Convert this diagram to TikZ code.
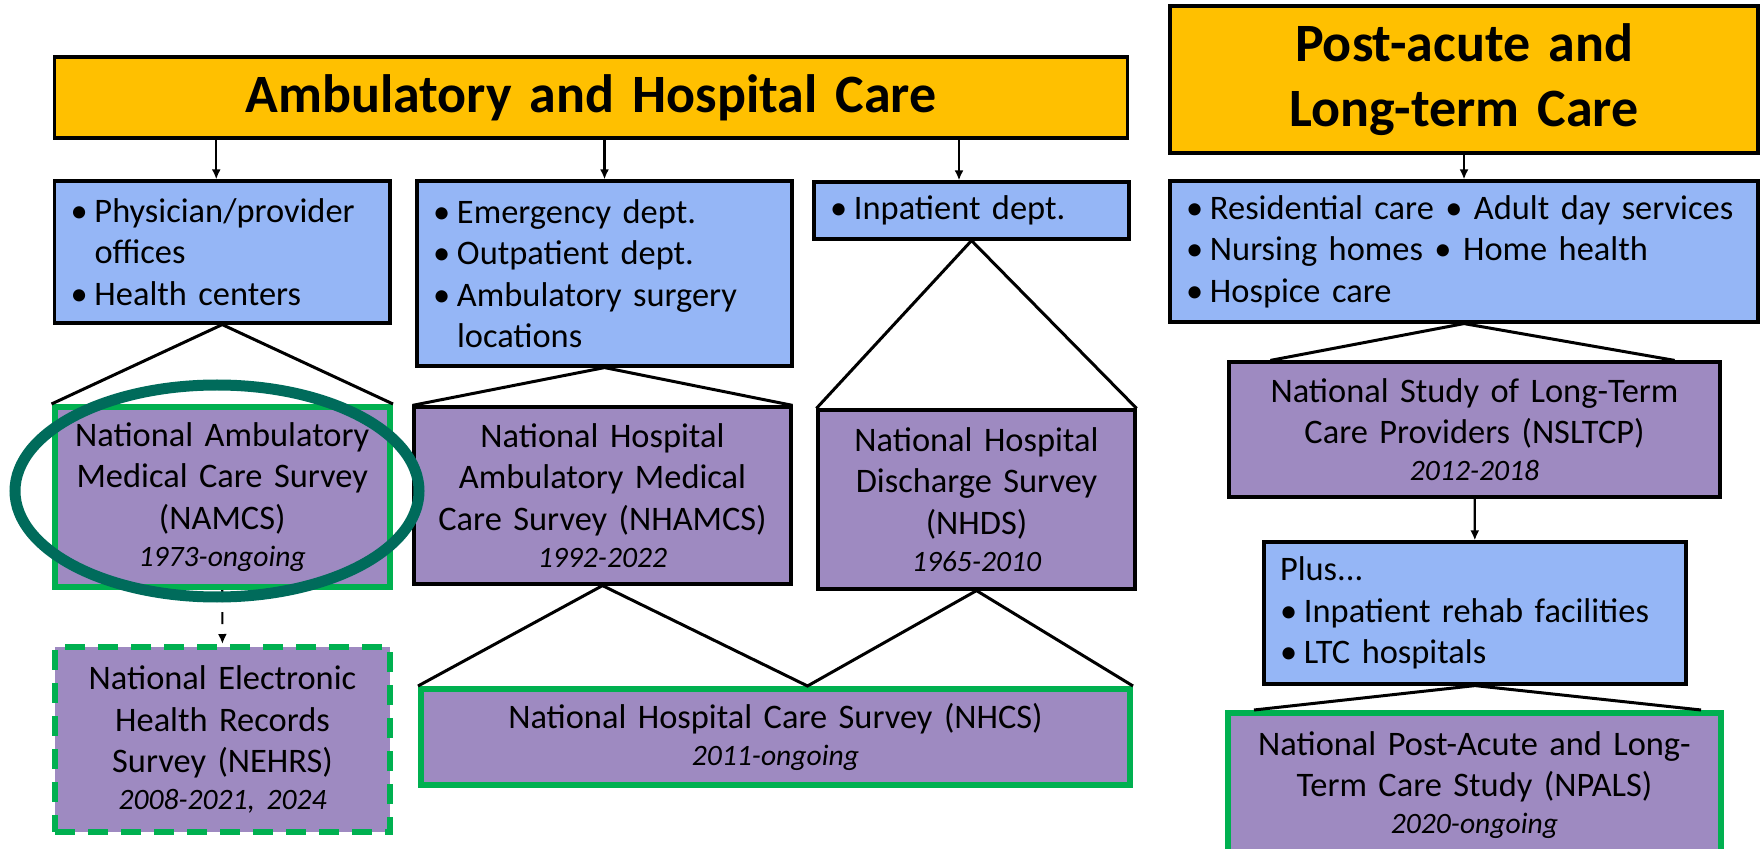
\documentclass[tikz,border=0pt]{standalone}
\usepackage{fontspec}
\setmainfont{Carlito}
\usepackage{xcolor}
\usepackage{tikz}
\usetikzlibrary{arrows.meta}

\definecolor{hdrorange}{HTML}{FFC000}
\definecolor{setblue}{HTML}{95B6F6}
\definecolor{srvpurple}{HTML}{9E8AC1}
\definecolor{keepgreen}{HTML}{00B050}
\definecolor{ringteal}{HTML}{006B5B}

\newcommand{\itm}{\makebox[12pt][l]{•}}
\newcommand{\hng}{\hspace*{12pt}}
\newcommand{\yrs}[1]{{\fontsize{14.8}{18.5}\selectfont\itshape #1}}
\frenchspacing

\begin{document}
\begin{tikzpicture}[x=0.5pt, y=-0.5pt,
    hdr/.style={draw, line width=1.6pt, fill=hdrorange, align=center, inner sep=0pt,
        font=\fontsize{27}{32.5}\selectfont\bfseries},
    setbox/.style={draw, line width=1.6pt, fill=setblue, align=left, inner xsep=8pt, inner ysep=0pt,
        font=\fontsize{17.2}{20.75}\selectfont},
    srvbox/.style={draw, line width=1.6pt, fill=srvpurple, align=center, inner xsep=4pt, inner ysep=0pt,
        font=\fontsize{17.2}{20.75}\selectfont},
    keep/.style={draw=keepgreen, line width=3pt},
    arr/.style={-{Latex[length=5pt,width=4.5pt]}, line width=1.1pt},
    fan/.style={line width=1.5pt},
    ring/.style={draw=ringteal, line width=5.5pt}]
    \useasboundingbox (0,0) rectangle (1760,849);
    \clip (0,0) rectangle (1760,849);

    % headers
    \node[hdr, text width=536.75pt, minimum height=40.5pt] (amb) at (591,97.5) {Ambulatory and Hospital Care};
    \node[hdr, text width=294pt, minimum height=73.5pt] (pac) at (1464,79.5) {Post-acute and\\Long-term Care};

    % care settings
    \node[setbox, text width=151.75pt, minimum height=71pt] (phys) at (222.25,252)
        {\itm Physician/provider\\\hng offices\\\itm Health centers};
    \node[setbox, text width=171.5pt, minimum height=92.5pt] (emer) at (604.5,273.5)
        {\itm Emergency dept.\\\itm Outpatient dept.\\\itm Ambulatory surgery\\\hng locations};
    \node[setbox, text width=141.5pt, minimum height=28.5pt] (inpt) at (971.5,210.5) {\itm Inpatient dept.};
    \node[setbox, text width=278pt, minimum height=70.5pt] (resid) at (1464,251.5)
        {\itm Residential care • Adult day services\\\itm Nursing homes • Home health\\\itm Hospice care};
    \node[setbox, text width=195pt, minimum height=71pt] (plus) at (1475,613)
        {Plus...\\\itm Inpatient rehab facilities\\\itm LTC hospitals};

    % surveys
    \node[srvbox, keep, text width=159.75pt, minimum height=90pt] (namcs) at (222.25,497)
        {National Ambulatory\\Medical Care Survey\\(NAMCS)\\[-2.25pt]\yrs{1973-ongoing}};
    \node[srvbox, text width=180.5pt, minimum height=88.5pt] (nhamcs) at (602.5,495.5)
        {National Hospital\\Ambulatory Medical\\Care Survey (NHAMCS)\\[-2.25pt]\yrs{1992-2022}};
    \node[srvbox, text width=150.5pt, minimum height=89.5pt] (nhds) at (976.5,499.5)
        {National Hospital\\Discharge Survey\\(NHDS)\\[-2.25pt]\yrs{1965-2010}};
    \node[srvbox, keep, dash pattern=on 10pt off 6.5pt, text width=159.5pt, minimum height=92.5pt] (nehrs) at (222.5,739.5)
        {National Electronic\\Health Records\\Survey (NEHRS)\\[-2.25pt]\yrs{2008-2021, 2024}};
    \node[srvbox, keep, text width=346.5pt, minimum height=48pt] (nhcs) at (775.5,737)
        {National Hospital Care Survey (NHCS)\\[-2.25pt]\yrs{2011-ongoing}};
    \node[srvbox, text width=237.5pt, minimum height=67.5pt] (nsltcp) at (1474.5,429.5)
        {National Study of Long-Term\\Care Providers (NSLTCP)\\[-2.25pt]\yrs{2012-2018}};
    \node[srvbox, keep, text width=238.5pt, minimum height=72pt] (npals) at (1474.5,785)
        {National Post-Acute and Long-\\Term Care Study (NPALS)\\[-2.25pt]\yrs{2020-ongoing}};

    % arrows
    \draw[arr] ([xshift=-3pt]phys.north |- amb.south) -- ([xshift=-3pt]phys.north);
    \draw[arr] (emer.north |- amb.south) -- (emer.north);
    \draw[arr] ([xshift=-6.25pt]inpt.north |- amb.south) -- ([xshift=-6.25pt]inpt.north);
    \draw[arr] (pac) -- (resid);
    \draw[arr] (nsltcp) -- (plus);
    \draw[arr, dash pattern=on 6pt off 5pt] (namcs) -- (nehrs);

    % fans
    \coordinate (nhcsmid) at ([xshift=16pt]nhcs.north);
    \draw[fan] (namcs.north west) -- (phys.south) -- (namcs.north east);
    \draw[fan] (nhamcs.north west) -- (emer.south) -- (nhamcs.north east);
    \draw[fan] (nhds.north west) -- (inpt.south) -- (nhds.north east);
    \draw[fan] (nhcs.north west) -- (nhamcs.south) -- (nhcsmid) -- (nhds.south) -- (nhcs.north east);
    \draw[fan] ([xshift=21.5pt]nsltcp.north west) -- (resid.south) -- ([xshift=-23.5pt]nsltcp.north east);
    \draw[fan] ([xshift=14.5pt]npals.north west) -- (plus.south) -- ([xshift=-11.5pt]npals.north east);

    % highlight
    \draw[ring] (217,491) ellipse [x radius=101pt, y radius=53pt];
\end{tikzpicture}
\end{document}
